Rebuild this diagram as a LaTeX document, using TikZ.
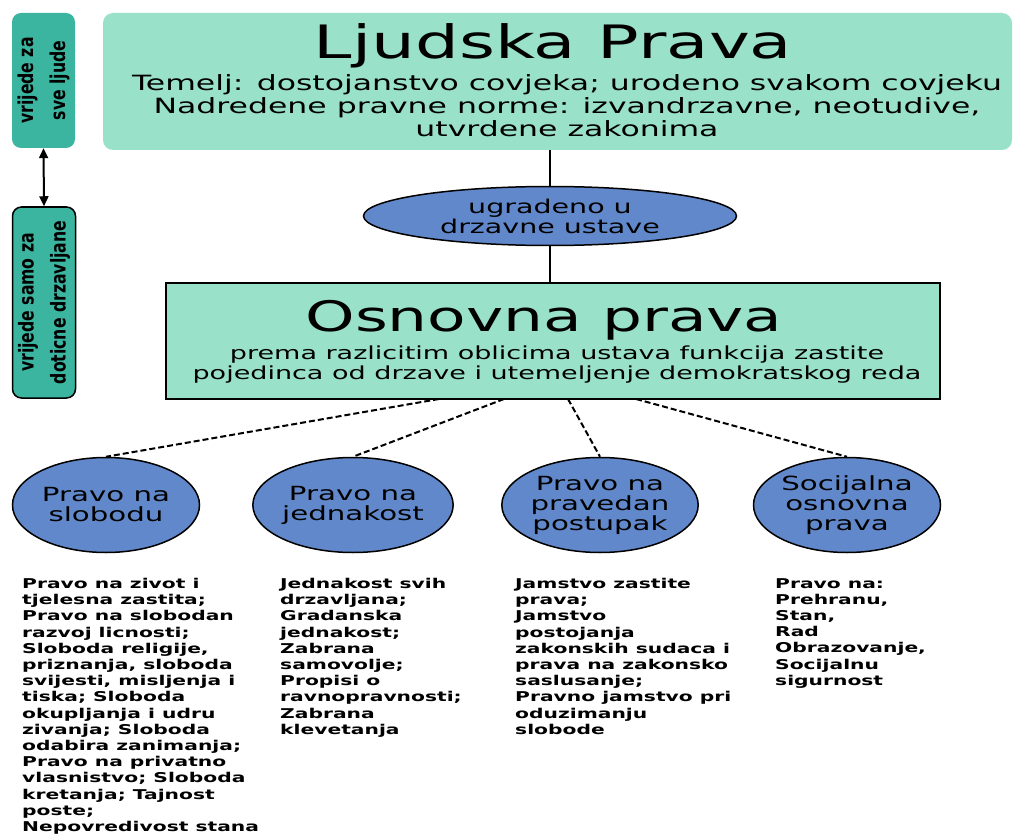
\documentclass[tikz,border=0pt]{standalone}
\usepackage{fontspec}
\setmainfont{DejaVu Sans}
\newfontfamily\pixfont[FakeStretch=1.5]{DejaVu Sans}
\newfontfamily\uskifont[FakeStretch=0.85]{DejaVu Sans Condensed}
\usetikzlibrary{positioning,shapes.geometric,arrows.meta}
\definecolor{zelena}{HTML}{99E1C9}
\definecolor{tirkiz}{HTML}{3BB4A0}
\definecolor{plava}{HTML}{6188CA}

\begin{document}
\begin{tikzpicture}[x=1pt, y=-1pt, on grid,
    box/.style={fill=zelena, inner sep=0},
    pill/.style={fill=tirkiz, rounded corners=9pt, minimum height=63pt, inner sep=0, align=center,
                 font=\uskifont\bfseries\fontsize{20.5}{32}\selectfont},
    krug/.style={ellipse, draw, line width=1.5pt, fill=plava, minimum width=187pt, minimum height=95pt,
                 inner sep=0, align=center, font=\pixfont\fontsize{19.5}{20}\selectfont},
    naslov/.style={align=center, inner sep=0, font=\pixfont\fontsize{46}{50}\selectfont},
    stupac/.style={anchor=north west, align=left, inner sep=0, font=\pixfont\bfseries\fontsize{13.5}{16.2}\selectfont},
    veza/.style={line width=2pt},
    crtkano/.style={line width=2pt, dash pattern=on 6pt off 3pt}]
    \useasboundingbox (0,0) rectangle (1014,837);

    \node[pill, rotate=90, minimum width=135pt] (p1) at (43.5,80.5) {vrijede za\\sve ljude};
    \node[pill, rotate=90, minimum width=191pt, draw, line width=1.5pt] (p2) at (44,302.5) {vrijede samo za\\doticne drzavljane};
    \draw[veza, {Triangle[length=10pt,width=9pt]}-{Triangle[length=10pt,width=9pt]}] (p1.west) -- (p2.east);

    \node[box, rounded corners=10pt, minimum width=909pt, minimum height=137pt] (ljp) at (557.5,81.5) {};
    \node[naslov] (ljpnaslov) at (553,46) {Ljudska Prava};
    \node[align=center, inner sep=0, font=\pixfont\fontsize{21}{23}\selectfont] (ljptekst) at (567,106)
        {Temelj: dostojanstvo covjeka; urodeno svakom covjeku\\
         Nadredene pravne norme: izvandrzavne, neotudive,\\
         utvrdene zakonima};

    \node[krug, minimum width=373pt, minimum height=59pt, font=\pixfont\fontsize{19}{20}\selectfont] (ugr) at (550,216)
        {ugradeno u\\drzavne ustave};

    \node[box, draw, line width=2pt, minimum width=774pt, minimum height=116pt] (osn) at (553,341) {};
    \node[naslov, font=\pixfont\fontsize{42}{46}\selectfont] (osnnaslov) at (544,320) {Osnovna prava};
    \node[align=center, inner sep=0, font=\pixfont\fontsize{18}{20}\selectfont] (osntekst) at (557,365)
        {prema razlicitim oblicima ustava funkcija zastite\\
         pojedinca od drzave i utemeljenje demokratskog reda};

    \draw[veza] (ugr.north) -- (ugr.north |- ljp.south);
    \draw[veza] (ugr.south) -- (ugr.south |- osn.north);

    \node[krug] (slob) at (106,505) {Pravo na\\slobodu};
    \node[krug, right=247pt of slob] (jedn) {Pravo na\\jednakost};
    \node[krug, right=247pt of jedn] (post) {Pravo na\\pravedan\\postupak};
    \node[krug, right=247pt of post] (soc) {Socijalna\\osnovna\\prava};

    \coordinate (d1) at (439,399);
    \coordinate (d2) at (504,399);
    \coordinate (d3) at (568,399);
    \coordinate (d4) at (636,399);
    \draw[crtkano] (d1) -- (slob.north);
    \draw[crtkano] (d2) -- (jedn.north);
    \draw[crtkano] (d3) -- (post.north);
    \draw[crtkano] (d4) -- (soc.north);

    \node[stupac] (t1) at (22,578) {Pravo na zivot i\\tjelesna zastita;\\Pravo na slobodan\\razvoj licnosti;\\
        Sloboda religije,\\priznanja, sloboda\\svijesti, misljenja i\\tiska; Sloboda\\okupljanja i udru\\
        zivanja; Sloboda\\odabira zanimanja;\\Pravo na privatno\\vlasnistvo; Sloboda\\kretanja; Tajnost\\
        poste;\\Nepovredivost stana};
    \node[stupac] (t2) at (280,578) {Jednakost svih\\drzavljana;\\Gradanska\\jednakost;\\Zabrana\\samovolje;\\
        Propisi o\\ravnopravnosti;\\Zabrana\\klevetanja};
    \node[stupac] (t3) at (515,578) {Jamstvo zastite\\prava;\\Jamstvo\\postojanja\\zakonskih sudaca i\\
        prava na zakonsko\\saslusanje;\\Pravno jamstvo pri\\oduzimanju\\slobode};
    \node[stupac] (t4) at (775,578) {Pravo na:\\Prehranu,\\Stan,\\Rad\\Obrazovanje,\\Socijalnu\\sigurnost};
\end{tikzpicture}
\end{document}
